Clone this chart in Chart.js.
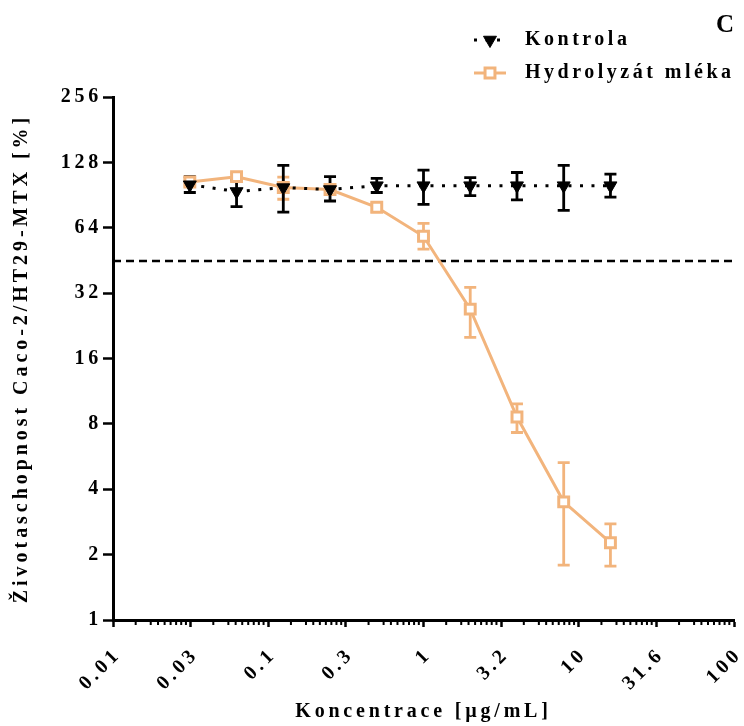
<!DOCTYPE html>
<html>
<head>
<meta charset="utf-8">
<script src="https://cdn.jsdelivr.net/npm/chart.js@4.4.0/dist/chart.umd.min.js"></script>
<style>
html,body{margin:0;padding:0;background:#fff;}
#wrap{width:744px;height:726px;}
</style>
</head>
<body>
<div id="wrap"><canvas id="myChart" width="744" height="726"></canvas></div>
<script>
// concentrations in ug/mL
var concentrations = [0.03125, 0.0625, 0.125, 0.25, 0.5, 1, 2, 4, 8, 16];

var kontrola     = [101, 94, 98, 96, 100, 100, 100, 100, 100, 100];
var kontrolaLow  = [93, 80, 75.5, 85, 93, 82, 90, 86, 77, 88.5];
var kontrolaHigh = [110, 106, 124, 110, 108, 118, 109, 115, 124, 113];

var hydrolyzat     = [104, 110, 98, 96, 79.5, 58.5, 27, 8.6, 3.5, 2.27];
var hydrolyzatLow  = [100, 106, 86.6, 91, 76, 51, 20, 7.3, 1.79, 1.77];
var hydrolyzatHigh = [108, 114, 109.4, 101, 83, 67, 34, 9.9, 5.3, 2.77];

var thresholdValue = 45;

var xTickValues = [0.01, 0.0316228, 0.1, 0.316228, 1, 3.16228, 10, 31.6228, 100];
var xTickLabels = ["0.01", "0.03", "0.1", "0.3", "1", "3.2", "10", "31.6", "100"];
var yTickValues = [1, 2, 4, 8, 16, 32, 64, 128, 256];

var panelLabel = "C";
var orange = "#F2B47C";
var serif = "'Liberation Serif', 'Times New Roman', serif";
var titleSpacing = {x: '3.8px', y: '3.95px'};

function toPoints(xs, ys){
    var pts = [];
    for (var i = 0; i < xs.length; i++) pts.push({x: xs[i], y: ys[i]});
    return pts;
}

var spacingPlugin = {
    id: 'spacing',
    beforeUpdate: function(chart){ chart.ctx.letterSpacing = '3.75px'; },
    beforeDraw: function(chart){
        chart.ctx.letterSpacing = '3.75px';
        ['x', 'y'].forEach(function(id){
            var s = chart.scales[id];
            if (s._spaced) return;
            var orig = s.drawTitle;
            s.drawTitle = function(){
                var c = this.ctx, prev = c.letterSpacing;
                c.letterSpacing = titleSpacing[id];
                orig.apply(this, arguments);
                c.letterSpacing = prev;
            };
            s._spaced = true;
        });
    }
};

var errorBarPlugin = {
    id: 'errorBars',
    beforeDatasetsDraw: function(chart){
        var ctx = chart.ctx;
        var xs = chart.scales.x, ys = chart.scales.y;
        var order = [1, 0];
        order.forEach(function(di){
            var ds = chart.data.datasets[di];
            if (!ds.errLow) return;
            ctx.save();
            ctx.setLineDash([]);
            ctx.strokeStyle = ds.borderColor;
            ctx.lineWidth = 2.8;
            for (var i = 0; i < concentrations.length; i++) {
                var px = xs.getPixelForValue(concentrations[i]);
                var lo = ys.getPixelForValue(ds.errLow[i]);
                var hi = ys.getPixelForValue(ds.errHigh[i]);
                ctx.beginPath();
                ctx.moveTo(px, lo); ctx.lineTo(px, hi);
                ctx.moveTo(px - 6, lo); ctx.lineTo(px + 6, lo);
                ctx.moveTo(px - 6, hi); ctx.lineTo(px + 6, hi);
                ctx.stroke();
            }
            ctx.restore();
        });
    }
};

var minorFactors = [1.4, 1.75, 1.95, 2.15, 2.35, 2.55, 2.75, 2.95];
var decorPlugin = {
    id: 'decor',
    afterDraw: function(chart){
        var ctx = chart.ctx;
        var xs = chart.scales.x;
        var bottom = chart.chartArea.bottom;
        ctx.save();
        // minor ticks on x
        ctx.strokeStyle = '#000';
        ctx.lineWidth = 2;
        ctx.beginPath();
        for (var k = 0; k < xTickValues.length - 1; k++) {
            minorFactors.forEach(function(f){
                var px = xs.getPixelForValue(xTickValues[k] * f);
                ctx.moveTo(px, bottom); ctx.lineTo(px, bottom + 5);
            });
        }
        ctx.stroke();

        // legend
        var rows = [40, 73];
        var n = 0;
        chart.data.datasets.forEach(function(ds){
            if (ds.inLegend === false) return;
            var y = rows[n++];
            ctx.setLineDash(ds.borderDash || []);
            ctx.strokeStyle = ds.borderColor;
            ctx.lineWidth = ds.borderWidth;
            ctx.beginPath();
            ctx.moveTo(474, y); ctx.lineTo(506, y);
            ctx.stroke();
            ctx.setLineDash([]);
            ctx.fillStyle = ds.pointBackgroundColor;
            ctx.strokeStyle = ds.pointBorderColor;
            ctx.lineWidth = ds.pointBorderWidth;
            Chart.helpers.drawPoint(ctx, {
                pointStyle: ds.pointStyle, rotation: ds.rotation || 0,
                radius: ds.pointRadius, borderWidth: ds.pointBorderWidth
            }, 490, y);
            ctx.letterSpacing = '3.5px';
            ctx.fillStyle = '#000';
            ctx.font = 'bold 20px ' + serif;
            ctx.textAlign = 'left';
            ctx.textBaseline = 'middle';
            ctx.fillText(ds.label, 525, y);
        });

        // panel label
        ctx.letterSpacing = '0px';
        ctx.font = 'bold 25px ' + serif;
        ctx.textAlign = 'center';
        ctx.textBaseline = 'middle';
        ctx.fillStyle = '#000';
        ctx.fillText(panelLabel, 725, 26);
        ctx.restore();
    }
};

var tickFont = {family: serif, weight: 'bold', size: 20};
var titleFont = {family: serif, weight: 'bold', size: 20};

new Chart(document.getElementById('myChart'), {
    type: 'line',
    data: {
        datasets: [
            {
                label: 'Kontrola',
                data: toPoints(concentrations, kontrola),
                borderColor: '#000',
                borderWidth: 3,
                borderDash: [3, 8.5],
                pointStyle: 'triangle',
                rotation: 180,
                pointRadius: 7.5,
                pointBackgroundColor: '#000',
                pointBorderColor: '#000',
                pointBorderWidth: 1,
                errLow: kontrolaLow,
                errHigh: kontrolaHigh
            },
            {
                label: 'Hydrolyzát mléka',
                data: toPoints(concentrations, hydrolyzat),
                borderColor: orange,
                borderWidth: 3,
                pointStyle: 'rect',
                pointRadius: 7,
                pointBackgroundColor: '#fff',
                pointBorderColor: orange,
                pointBorderWidth: 3,
                errLow: hydrolyzatLow,
                errHigh: hydrolyzatHigh
            },
            {
                label: 'threshold',
                inLegend: false,
                data: [{x: 0.01, y: thresholdValue}, {x: 100, y: thresholdValue}],
                borderColor: '#000',
                borderWidth: 2.5,
                borderDash: [8, 5],
                pointRadius: 0
            }
        ]
    },
    options: {
        responsive: false,
        devicePixelRatio: 1,
        animation: false,
        events: [],
        layout: {padding: {top: 97, right: 7, left: 0, bottom: 0}},
        plugins: {
            legend: {display: false},
            tooltip: {enabled: false},
            title: {display: false}
        },
        scales: {
            x: {
                type: 'logarithmic',
                position: 'bottom',
                min: 0.01,
                max: 100,
                afterBuildTicks: function(s){
                    s.ticks = xTickValues.map(function(v){ return {value: v}; });
                },
                afterFit: function(s){
                    s.height = 106;
                    s.paddingLeft = 0;
                    s.paddingRight = 0;
                },
                ticks: {
                    autoSkip: false,
                    minRotation: 45,
                    maxRotation: 45,
                    padding: 16,
                    labelOffset: 5,
                    color: '#000',
                    font: tickFont,
                    callback: function(v, i){ return xTickLabels[i]; }
                },
                grid: {
                    drawOnChartArea: false,
                    tickLength: 7,
                    tickWidth: 2.5,
                    tickColor: '#000'
                },
                border: {color: '#000', width: 3},
                title: {
                    display: true,
                    text: 'Koncentrace [µg/mL]',
                    color: '#000',
                    font: titleFont,
                    padding: {top: 0, bottom: 2}
                }
            },
            y: {
                type: 'logarithmic',
                position: 'left',
                min: 1,
                max: 256,
                afterBuildTicks: function(s){
                    s.ticks = yTickValues.map(function(v){ return {value: v}; });
                },
                afterFit: function(s){
                    s.width = 113;
                    s.paddingTop = 0;
                    s.paddingBottom = 0;
                },
                ticks: {
                    padding: 1,
                    color: '#000',
                    font: tickFont,
                    callback: function(v){ return String(v); }
                },
                grid: {
                    drawOnChartArea: false,
                    tickLength: 10,
                    tickWidth: 2.5,
                    tickColor: '#000'
                },
                border: {color: '#000', width: 3},
                title: {
                    display: true,
                    text: 'Životaschopnost Caco-2/HT29-MTX [%]',
                    color: '#000',
                    font: titleFont,
                    padding: {top: 10, bottom: 0}
                }
            }
        }
    },
    plugins: [spacingPlugin, errorBarPlugin, decorPlugin]
});
</script>
</body>
</html>
